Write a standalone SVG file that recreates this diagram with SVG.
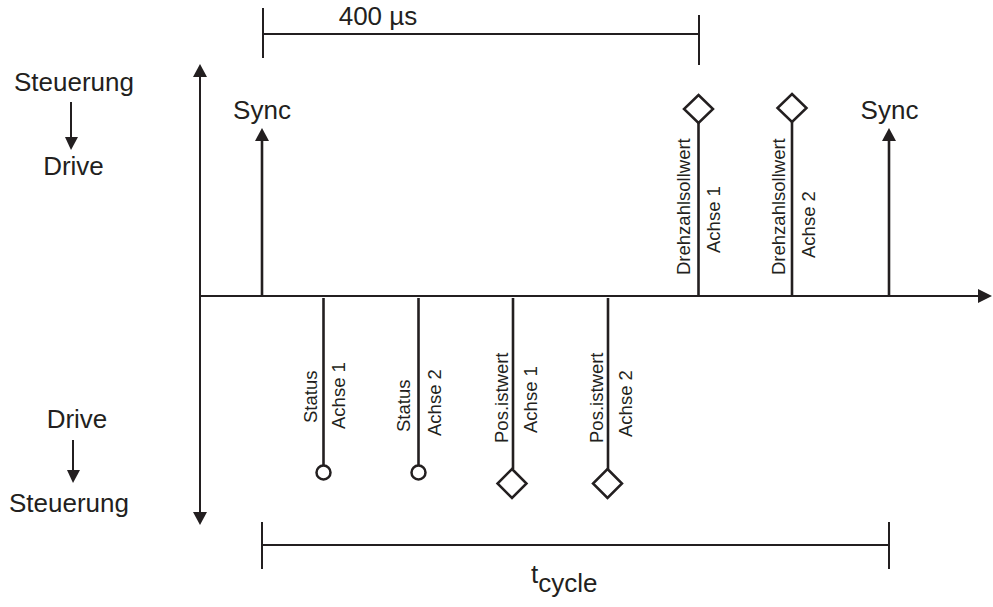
<svg xmlns="http://www.w3.org/2000/svg" width="993" height="607" viewBox="0 0 993 607">
<style>
text{font-family:"Liberation Sans",Arial,sans-serif;fill:#231f20}
.big{font-size:26px}
.sm{font-size:18.5px}
.ax{stroke:#231f20;stroke-width:2;fill:none}
.stem{stroke:#231f20;stroke-width:2.6;fill:none}
.mk{stroke:#231f20;stroke-width:2.5;fill:#fff}
.ah{fill:#231f20;stroke:none}
</style>
<rect width="993" height="607" fill="#fff"/>
<g id="connectors">
<line class="ax" x1="200" y1="74" x2="200" y2="515"/>
<polygon class="ah" points="200,64 193,77 207,77"/>
<polygon class="ah" points="200,525 193,512 207,512"/>
<line class="ax" x1="200" y1="296" x2="980" y2="296"/>
<polygon class="ah" points="992,296 978,289 978,303"/>
<line class="ax" x1="263" y1="8" x2="263" y2="58"/>
<line class="ax" x1="263" y1="34" x2="699" y2="34"/>
<line class="ax" x1="699" y1="15" x2="699" y2="65"/>
<line class="ax" x1="262" y1="522" x2="262" y2="569"/>
<line class="ax" x1="262" y1="545" x2="889" y2="545"/>
<line class="ax" x1="889" y1="522" x2="889" y2="569"/>
<line class="ax" x1="71" y1="102" x2="71" y2="140"/>
<polygon class="ah" points="71,150 65,137 78,137"/>
<line class="ax" x1="73" y1="440" x2="73" y2="473"/>
<polygon class="ah" points="73,483 67,470 80,470"/>
</g>
<g id="labels-left">
<text class="big" x="74" y="91" text-anchor="middle">Steuerung</text>
<text class="big" x="73.5" y="175" text-anchor="middle">Drive</text>
<text class="big" x="77" y="428" text-anchor="middle">Drive</text>
<text class="big" x="69" y="512" text-anchor="middle">Steuerung</text>
</g>
<g id="span-400">
<text class="big" x="378" y="25" text-anchor="middle">400 µs</text>
</g>
<g id="span-cycle">
<text class="big" x="531" y="583">t<tspan y="592">cycle</tspan></text>
</g>
<g id="sync1">
<line class="stem" x1="262" y1="296" x2="262" y2="138"/>
<polygon class="ah" points="262,128 255,141 269,141"/>
<text class="big" x="262" y="119" text-anchor="middle">Sync</text>
</g>
<g id="sync2">
<line class="stem" x1="889" y1="296" x2="889" y2="138"/>
<polygon class="ah" points="889,128 882,141 896,141"/>
<text class="big" x="889.5" y="119" text-anchor="middle">Sync</text>
</g>
<g id="drehzahl1">
<line class="stem" x1="698.5" y1="296" x2="698.5" y2="123"/>
<polygon class="mk" points="698.5,95 713,109 698.5,123 684,109"/>
<text class="sm" transform="translate(690,275) rotate(-90)">Drehzahlsollwert</text>
<text class="sm" transform="translate(720,253) rotate(-90)">Achse 1</text>
</g>
<g id="drehzahl2">
<line class="stem" x1="792" y1="296" x2="792" y2="122"/>
<polygon class="mk" points="792,94 806.5,108 792,122 777.5,108"/>
<text class="sm" transform="translate(785,275) rotate(-90)">Drehzahlsollwert</text>
<text class="sm" transform="translate(815,258) rotate(-90)">Achse 2</text>
</g>
<g id="status1">
<line class="stem" x1="323.5" y1="298" x2="323.5" y2="465"/>
<circle class="mk" cx="323.5" cy="472.5" r="7"/>
<text class="sm" transform="translate(317,423) rotate(-90)">Status</text>
<text class="sm" transform="translate(345,429) rotate(-90)">Achse 1</text>
</g>
<g id="status2">
<line class="stem" x1="418.5" y1="298" x2="418.5" y2="465"/>
<circle class="mk" cx="418.5" cy="472.5" r="7"/>
<text class="sm" transform="translate(410,432) rotate(-90)">Status</text>
<text class="sm" transform="translate(441,436) rotate(-90)">Achse 2</text>
</g>
<g id="pos1">
<line class="stem" x1="513" y1="298" x2="513" y2="469"/>
<polygon class="mk" points="512,469 526.5,483.5 512,498 497.5,483.5"/>
<text class="sm" transform="translate(508,443) rotate(-90)">Pos.istwert</text>
<text class="sm" transform="translate(537,433) rotate(-90)">Achse 1</text>
</g>
<g id="pos2">
<line class="stem" x1="608" y1="298" x2="608" y2="469"/>
<polygon class="mk" points="607.5,469 622,483.5 607.5,498 593,483.5"/>
<text class="sm" transform="translate(603,443) rotate(-90)">Pos.istwert</text>
<text class="sm" transform="translate(632,437) rotate(-90)">Achse 2</text>
</g>
</svg>
